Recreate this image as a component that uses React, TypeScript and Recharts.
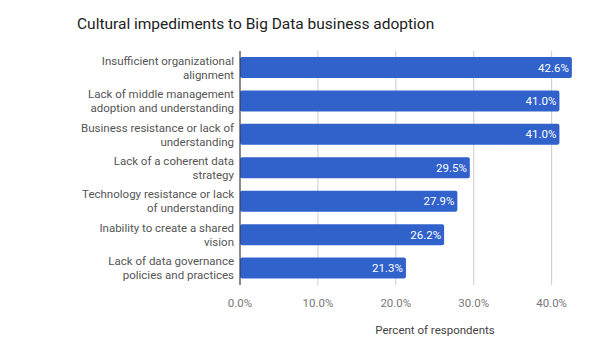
import { BarChart, Bar, XAxis, YAxis, CartesianGrid, LabelList, ReferenceLine } from 'recharts';

const categories = [
  'Insufficient organizational\nalignment',
  'Lack of middle management\nadoption and understanding',
  'Business resistance or lack of\nunderstanding',
  'Lack of a coherent data\nstrategy',
  'Technology resistance or lack\nof understanding',
  'Inability to create a shared\nvision',
  'Lack of data governance\npolicies and practices',
];
const percentValues = [42.6, 41.0, 41.0, 29.5, 27.9, 26.2, 21.3];
const xTicks = [0, 10, 20, 30, 40];
const xMax = 43;

const FONT = 'Roboto, "Noto Sans", sans-serif';

const data = categories.map((name, i) => ({ name, value: percentValues[i] }));

function CategoryTick({ x, y, payload }: any) {
  const lines = String(payload.value).split('\n');
  const lh = 14;
  const start = y - ((lines.length - 1) * lh) / 2;
  return (
    <text x={x} y={start} textAnchor="end" fill="#555" fontSize={11.5} fontFamily={FONT}>
      {lines.map((l, i) => (
        <tspan key={i} x={x} y={start + i * lh} dominantBaseline="central">
          {l}
        </tspan>
      ))}
    </text>
  );
}

function ValueLabel({ x, y, width, height, value }: any) {
  return (
    <text
      x={x + width - 3}
      y={y + height / 2}
      textAnchor="end"
      dominantBaseline="central"
      fill="#fff"
      fontSize={11.5}
      fontFamily={FONT}
    >
      {value.toFixed(1)}%
    </text>
  );
}

// grid only at the tick values, not at the domain end
const gridX = ({ offset }: any) => xTicks.map((t) => offset.left + (t / xMax) * offset.width);

export default function App() {
  return (
    <div style={{ position: 'absolute', left: 0, top: 0, width: 604, height: 353, background: '#fff', fontFamily: FONT }}>
      <div style={{ position: 'absolute', left: 77, top: 15, fontSize: 15.5, color: '#222' }}>
        Cultural impediments to Big Data business adoption
      </div>
      <div style={{ position: 'absolute', left: 335, width: 200, top: 323, textAlign: 'center', fontSize: 11.5, color: '#444' }}>
        Percent of respondents
      </div>
      <BarChart
        width={604}
        height={353}
        data={data}
        layout="vertical"
        margin={{ top: 51, right: 29, bottom: 38, left: 0 }}
        barSize={21}
      >
        <CartesianGrid horizontal={false} stroke="#ccc" verticalCoordinatesGenerator={gridX} />
        <XAxis
          type="number"
          domain={[0, xMax]}
          ticks={xTicks}
          tickFormatter={(v: number) => `${v.toFixed(1)}%`}
          axisLine={false}
          tickLine={false}
          tick={{ fill: '#777', fontSize: 11.5, fontFamily: FONT }}
          tickMargin={8}
          height={30}
          allowDataOverflow
        />
        <YAxis
          type="category"
          dataKey="name"
          width={240}
          axisLine={false}
          tickLine={false}
          tick={<CategoryTick />}
          tickMargin={0}
          interval={0}
        />
        <ReferenceLine x={0} stroke="#333" />
        <Bar dataKey="value" fill="#3162cc" radius={2} isAnimationActive={false}>
          <LabelList dataKey="value" content={<ValueLabel />} />
        </Bar>
      </BarChart>
    </div>
  );
}
